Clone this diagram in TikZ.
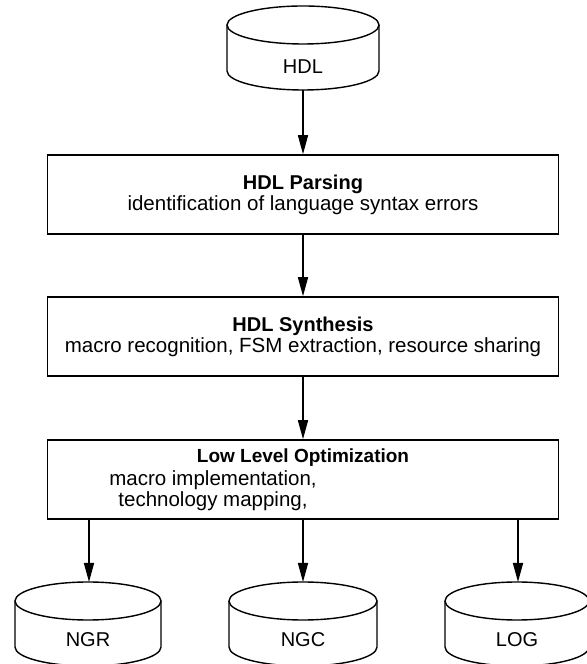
\documentclass[tikz,border=0pt]{standalone}
\usepackage{fontspec}
\setmainfont{Liberation Sans}
\usetikzlibrary{arrows.meta}
\newcommand\mycyl[3]{%
  \draw[cylline] (#1,#2) ellipse[x radius=#3,y radius=19];
  \draw[cylline] (#1-#3,#2) -- (#1-#3,#2-46) arc[start angle=180,end angle=360,x radius=#3,y radius=19] -- (#1+#3,#2);
}
\begin{document}
\begin{tikzpicture}[x=1bp,y=1bp,
  boxn/.style={draw, line width=1.6bp, minimum width=511bp, minimum height=79bp, inner sep=0pt, align=center, font=\fontsize{20.5bp}{21bp}\selectfont},
  lbl/.style={font=\fontsize{20bp}{21bp}\selectfont, inner sep=0pt},
  ttl/.style={font=\fontsize{19bp}{21bp}\selectfont\bfseries, inner sep=0pt},
  sub/.style={font=\fontsize{20.5bp}{21bp}\selectfont, inner sep=0pt, align=center},
  arr/.style={line width=1.6bp, -{Triangle[length=19bp,width=10bp]}},
  cylline/.style={line width=1.4bp},
]
\useasboundingbox (0,0) rectangle (587,664);
% HDL cylinder
\mycyl{303}{639}{76}
\node[lbl] (hdl) at (303,597) {HDL};
\coordinate (hdlB) at (303,574);
% boxes
\node[boxn] (parse) at (303,469.5) {{\fontsize{20bp}{21bp}\selectfont\bfseries HDL Parsing}\\identification of language syntax errors};
\node[boxn] (synth) at (303,327.5) {{\fontsize{20bp}{21bp}\selectfont\bfseries HDL Synthesis}\\macro recognition, FSM extraction, resource sharing};
\node[boxn] (llo) at (303,184.5) {};
\node[ttl] (lloT) at (303,206) {Low Level Optimization};
\node[sub] (lloS) at (213,173) {macro implementation,\\technology mapping,};
% arrows
\draw[arr] (hdlB) -- (parse.north);
\draw[arr] (parse.south) -- (synth.north);
\draw[arr] (synth.south) -- (llo.north);
% bottom cylinders
\mycyl{88}{63}{73}
\mycyl{303}{63}{74}
\mycyl{517}{63}{72}
\node[lbl] (ngr) at (88,24) {NGR};
\node[lbl] (ngc) at (303,24) {NGC};
\node[lbl] (log) at (517,24) {LOG};
\coordinate (ngrT) at (89,82);
\coordinate (ngcT) at (303,82);
\coordinate (logT) at (518,82);
\draw[arr] (llo.south -| ngrT) -- (ngrT);
\draw[arr] (llo.south -| ngcT) -- (ngcT);
\draw[arr] (llo.south -| logT) -- (logT);
\end{tikzpicture}
\end{document}
